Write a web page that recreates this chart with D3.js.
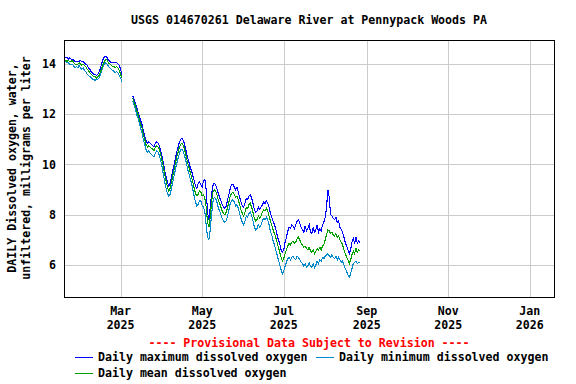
<!DOCTYPE html>
<html>
<head>
<meta charset="utf-8">
<script src="https://cdn.jsdelivr.net/npm/d3@7"></script>
<style>
  body { margin: 0; background: #fff; }
  text { font-family: "DejaVu Sans Mono", monospace; font-weight: bold; font-size: 11.6px; }
  .grid line { stroke: #cccccc; shape-rendering: crispEdges; }
  .grid path { display: none; }
  .series { fill: none; stroke-width: 1.1; shape-rendering: crispEdges; }
</style>
</head>
<body>
<script>
// daily values, first run starts 2025-01-18, second run starts 2025-03-10
const seg1Start = new Date(2025, 0, 18),
      seg2Start = new Date(2025, 2, 10);

const maxSeg1 = [14.25,14.25,14.25,14.2,14.25,14.2,14.2,14.15,14.1,14.1,
  14.1,14.1,14.15,14.1,14.1,14.05,14.0,13.95,13.85,13.8,
  13.7,13.65,13.6,13.6,13.55,13.6,13.7,13.85,14.05,14.2,
  14.3,14.3,14.25,14.15,14.1,14.05,14.05,14.05,14.05,14.05,
  14.0,13.95,13.8,13.55];
const meanSeg1 = [14.15,14.15,14.1,14.15,14.1,14.1,14.15,14.05,14.0,14.0,
  14.0,14.05,14.0,13.95,14.0,13.95,13.9,13.8,13.75,13.65,
  13.6,13.55,13.5,13.5,13.45,13.5,13.55,13.7,13.85,14.0,
  14.1,14.2,14.15,14.05,14.0,13.95,13.9,13.9,13.85,13.9,
  13.85,13.75,13.6,13.45];
const minSeg1 = [14.1,14.1,14.05,14.05,14.0,14.0,14.0,13.9,13.85,13.9,
  13.85,13.95,13.85,13.8,13.85,13.75,13.7,13.6,13.55,13.5,
  13.45,13.4,13.4,13.35,13.4,13.4,13.45,13.6,13.75,13.9,
  14.0,14.05,14.0,13.9,13.85,13.8,13.75,13.7,13.65,13.7,
  13.65,13.55,13.45,13.3];

const maxSeg2 = [12.75,12.6,12.45,12.3,12.1,11.9,11.75,11.6,11.35,11.15,
  10.95,10.85,10.9,10.85,10.8,10.75,10.7,10.85,10.9,10.85,
  10.75,10.55,10.3,10.05,9.75,9.5,9.3,9.15,9.25,9.5,
  9.75,10.0,10.25,10.5,10.7,10.9,11.0,11.05,10.95,10.75,
  10.55,10.3,10.1,9.9,9.75,9.55,9.35,9.15,9.05,9.25,
  9.3,9.2,9.1,9.35,9.4,9.0,8.1,7.8,8.3,8.8,
  9.15,9.25,9.2,9.05,8.85,8.7,8.55,8.4,8.3,8.25,
  8.35,8.6,8.8,9.05,9.2,9.2,9.1,9.0,9.1,8.9,
  8.7,8.5,8.35,8.3,8.45,8.65,8.6,8.75,8.8,8.65,
  8.45,8.2,8.1,8.15,8.3,8.2,8.3,8.4,8.5,8.45,
  8.55,8.45,8.3,8.05,7.9,7.75,7.6,7.45,7.2,7.0,
  6.85,6.6,6.5,6.6,6.9,7.1,7.35,7.5,7.45,7.6,
  7.55,7.45,7.6,7.75,7.8,7.65,7.5,7.4,7.3,7.55,
  7.35,7.45,7.6,7.3,7.25,7.5,7.3,7.4,7.6,7.3,
  7.45,7.35,7.6,7.7,7.9,8.3,9.0,8.7,8.0,7.95,
  7.85,7.8,7.9,7.7,7.75,7.5,7.4,7.3,7.1,6.9,
  6.75,6.6,6.45,6.6,6.9,7.05,6.85,7.1,6.85,6.95,
  6.9];
const meanSeg2 = [12.65,12.5,12.35,12.15,12.0,11.8,11.6,11.45,11.2,11.0,
  10.8,10.7,10.75,10.7,10.65,10.6,10.55,10.7,10.75,10.7,
  10.6,10.4,10.15,9.9,9.6,9.35,9.1,8.95,9.05,9.3,
  9.55,9.8,10.05,10.3,10.5,10.7,10.8,10.85,10.75,10.55,
  10.35,10.1,9.9,9.7,9.5,9.3,9.05,8.85,8.75,8.8,
  8.95,8.9,8.75,8.8,8.65,8.3,7.7,7.5,7.9,8.5,
  8.9,9.0,8.95,8.8,8.6,8.45,8.3,8.15,8.05,8.0,
  8.1,8.3,8.5,8.75,8.85,8.9,8.8,8.7,8.75,8.6,
  8.4,8.2,8.05,7.95,8.1,8.3,8.25,8.4,8.45,8.3,
  8.1,7.85,7.75,7.8,7.95,7.85,7.95,8.1,8.2,8.15,
  8.25,8.15,7.95,7.75,7.6,7.4,7.25,7.1,6.9,6.7,
  6.5,6.3,6.15,6.25,6.45,6.6,6.75,6.85,6.8,6.9,
  6.95,6.85,6.9,7.05,7.1,7.0,6.85,6.8,6.7,6.75,
  6.65,6.6,6.7,6.55,6.5,6.6,6.45,6.55,6.65,6.6,
  6.7,6.6,6.75,6.8,7.0,7.2,7.4,7.35,7.25,7.3,
  7.2,7.15,7.25,7.1,7.15,7.0,6.9,6.8,6.6,6.45,
  6.3,6.2,6.05,6.2,6.4,6.55,6.45,6.65,6.5,6.6,
  6.55];
const minSeg2 = [12.55,12.4,12.2,12.0,11.85,11.65,11.45,11.25,11.0,10.8,
  10.6,10.5,10.55,10.45,10.4,10.35,10.3,10.45,10.55,10.5,
  10.35,10.15,9.9,9.6,9.3,9.05,8.85,8.75,8.8,9.05,
  9.3,9.55,9.8,10.05,10.25,10.45,10.6,10.6,10.5,10.3,
  10.1,9.85,9.65,9.45,9.25,9.0,8.75,8.5,8.35,8.4,
  8.55,8.55,8.35,8.3,8.1,7.6,7.1,7.0,7.4,8.0,
  8.5,8.7,8.65,8.5,8.3,8.15,8.0,7.85,7.75,7.7,
  7.75,7.95,8.2,8.45,8.55,8.6,8.5,8.35,8.4,8.25,
  8.05,7.85,7.7,7.6,7.75,7.95,7.9,8.05,8.1,7.95,
  7.75,7.5,7.4,7.45,7.6,7.5,7.6,7.75,7.85,7.8,
  7.9,7.8,7.6,7.35,7.2,6.95,6.8,6.6,6.4,6.2,
  6.0,5.8,5.65,5.75,5.95,6.1,6.25,6.3,6.2,6.3,
  6.35,6.25,6.2,6.35,6.3,6.2,6.1,6.05,5.95,6.05,
  5.9,5.95,6.1,5.95,5.9,6.05,5.9,6.0,6.15,6.05,
  6.2,6.15,6.3,6.25,6.35,6.4,6.45,6.35,6.3,6.4,
  6.3,6.25,6.35,6.2,6.3,6.2,6.1,6.15,6.0,5.85,
  5.75,5.6,5.5,5.65,5.85,6.05,6.1,6.15,6.05,6.1,
  6.1];

const tickDates = [new Date(2025,2,1), new Date(2025,4,1), new Date(2025,6,1),
                   new Date(2025,8,1), new Date(2025,10,1), new Date(2026,0,1)],
      tickMonths = ["Mar","May","Jul","Sep","Nov","Jan"],
      tickYears = ["2025","2025","2025","2025","2025","2026"],
      yTicks = [6, 8, 10, 12, 14];

const series = [
  {name: "Daily maximum dissolved oxygen", color: "#0000ff", segs: [maxSeg1, maxSeg2]},
  {name: "Daily minimum dissolved oxygen", color: "#0088cc", segs: [minSeg1, minSeg2]},
  {name: "Daily mean dissolved oxygen",    color: "#00a000", segs: [meanSeg1, meanSeg2]}
];

const width = 576, height = 384,
      margin = {left: 64, right: 554, top: 40, bottom: 297};

const svg = d3.select("body").append("svg")
              .attr("width", width)
              .attr("height", height);

const x = d3.scaleTime()
            .domain([new Date(2025,0,17,16), new Date(2026,0,19,2)])
            .range([margin.left, margin.right]);
const y = d3.scaleLinear()
            .domain([4.72, 14.96])
            .range([margin.bottom, margin.top]);

// grid
svg.append("g").attr("class", "grid")
   .attr("transform", "translate(0," + margin.bottom + ")")
   .call(d3.axisBottom(x).tickValues(tickDates).tickSize(-(margin.bottom - margin.top)).tickFormat(""));
svg.append("g").attr("class", "grid")
   .attr("transform", "translate(" + margin.left + ",0)")
   .call(d3.axisLeft(y).tickValues(yTicks).tickSize(-(margin.right - margin.left)).tickFormat(""));

// lines
const line = d3.line()
               .x(d => x(d.date))
               .y(d => y(d.v));
const starts = [seg1Start, seg2Start];
series.forEach(s => {
  s.segs.forEach((vals, i) => {
    const pts = vals.map((v, j) => ({date: d3.timeDay.offset(starts[i], j), v: v}));
    svg.append("path")
       .attr("class", "series")
       .attr("stroke", s.color)
       .attr("d", line(pts));
  });
});

// frame
svg.append("rect")
   .attr("x", margin.left + 0.5).attr("y", margin.top + 0.5)
   .attr("width", margin.right - margin.left).attr("height", margin.bottom - margin.top)
   .attr("fill", "none").attr("stroke", "#000")
   .attr("shape-rendering", "crispEdges");

// y tick labels
svg.selectAll(".ylab").data(yTicks).enter().append("text")
   .attr("x", 56).attr("y", d => y(d)).attr("dy", "0.35em")
   .attr("text-anchor", "end").text(d => d);

// x tick labels
tickDates.forEach((d, i) => {
  const t = svg.append("text").attr("text-anchor", "middle");
  t.append("tspan").attr("x", x(d)).attr("y", 315).text(tickMonths[i]);
  t.append("tspan").attr("x", x(d)).attr("y", 329).text(tickYears[i]);
});

// title
svg.append("text").attr("x", 309).attr("y", 24).attr("text-anchor", "middle")
   .text("USGS 014670261 Delaware River at Pennypack Woods PA");

// y axis title
const yt = svg.append("text").attr("text-anchor", "middle")
              .attr("transform", "translate(0,168) rotate(-90)");
yt.append("tspan").attr("x", 0).attr("y", 16).text("DAILY Dissolved oxygen, water,");
yt.append("tspan").attr("x", 0).attr("y", 30).text("unfiltered, milligrams per liter");

// provisional note
svg.append("text").attr("x", 309).attr("y", 347).attr("text-anchor", "middle")
   .attr("fill", "#ff0000")
   .text("---- Provisional Data Subject to Revision ----");

// legend
const legendPos = [{x: 75, y: 357}, {x: 316, y: 357}, {x: 75, y: 373}];
series.forEach((s, i) => {
  const p = legendPos[i];
  svg.append("rect")
     .attr("x", p.x).attr("y", p.y)
     .attr("width", 18).attr("height", 1)
     .attr("fill", s.color);
  svg.append("text").attr("x", p.x + 23).attr("y", p.y + 4).text(s.name);
});
</script>
</body>
</html>
